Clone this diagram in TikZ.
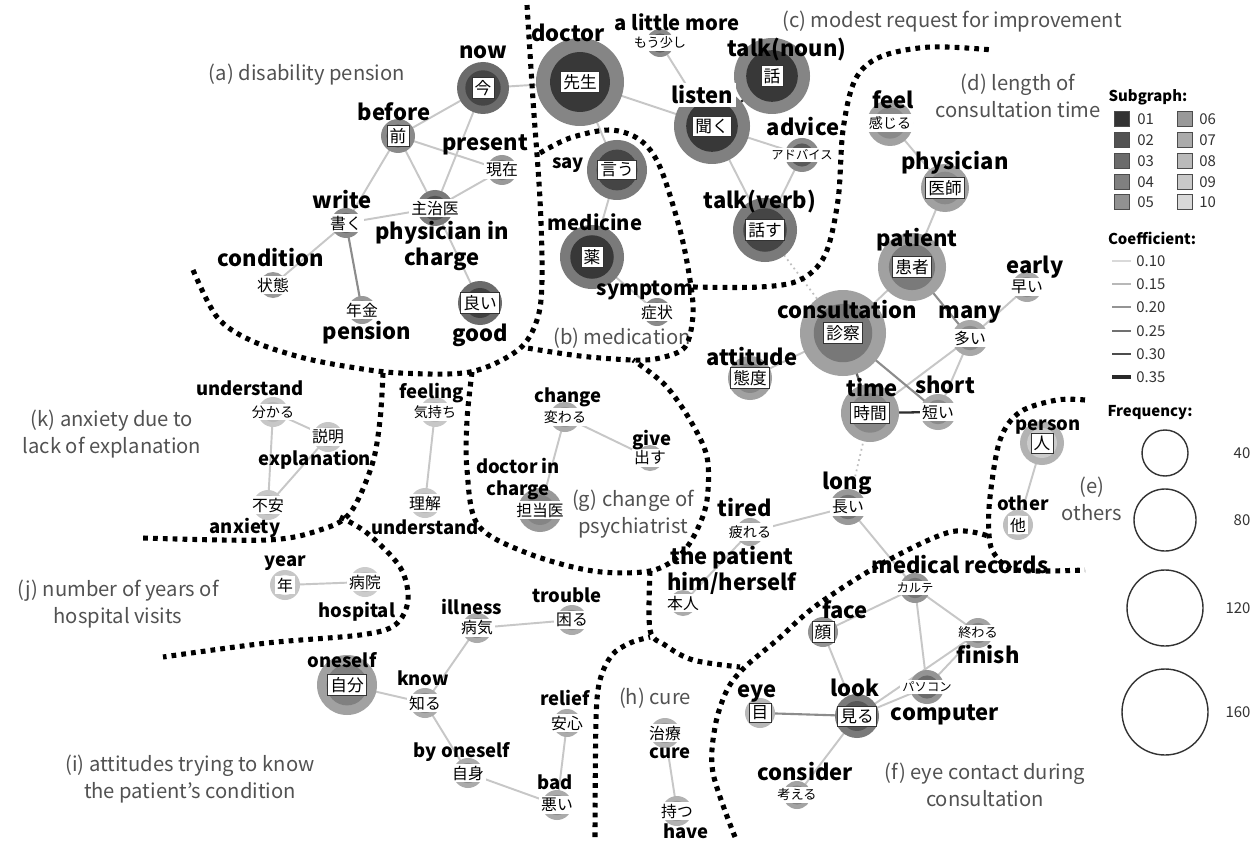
\documentclass[tikz,border=0pt]{standalone}
\usepackage{fontspec}
\setmainfont{Noto Sans CJK JP}
\newcommand{\wn}[6]{%
  \fill[#3] (#1) circle (#2);
  \fill[#4] (#1) circle ({0.68*#2});
  \node[#6] (#1-t) at (#1) {#5};}
\begin{document}
\begin{tikzpicture}[x=0.02cm,y=-0.02cm,
  ed/.style={draw=black!22,line width=1.1pt},
  edd/.style={draw=black!45,line width=1.2pt},
  eddd/.style={draw=black!82,line width=1.3pt},
  edot/.style={draw=black!25,line width=1pt,dash pattern=on 1pt off 2pt},
  bd/.style={line width=2.9pt,dash pattern=on 2.7pt off 2.9pt},
  jp/.style={fill=white,inner sep=1.2pt,font=\fontsize{9}{9.5}\selectfont},
  jpb/.style={fill=white,draw=black!80,line width=0.5pt,inner sep=1.5pt,font=\fontsize{9.5}{10}\selectfont},
  jpk/.style={jp,font=\fontsize{7}{8}\selectfont},
  enb/.style={font=\bfseries\fontsize{12.5}{14}\selectfont,inner sep=0pt},
  enm/.style={font=\bfseries\fontsize{11.5}{13}\selectfont,inner sep=0pt},
  ens/.style={font=\bfseries\fontsize{10.5}{12}\selectfont,inner sep=0pt},
  reg/.style={text=black!68,font=\fontsize{11.5}{15.5}\selectfont,align=center,inner sep=0pt},
  lg/.style={font=\fontsize{8.5}{10}\selectfont,text=black!80,inner sep=0pt},
  lgb/.style={font=\bfseries\fontsize{8.5}{10}\selectfont,inner sep=0pt},
  sq/.style={draw=black!70,line width=0.5pt,minimum size=0.3cm,inner sep=0pt},
]
\fill[white] (0,0) rectangle (1253,841);
\useasboundingbox (0,0) rectangle (1253,841);

% ---------- coordinates ----------
\coordinate (ima) at (483,88);
\coordinate (mae) at (398,136);
\coordinate (genzai) at (502,170);
\coordinate (shuji) at (435,208);
\coordinate (kaku) at (346,223);
\coordinate (jotai) at (273,285);
\coordinate (nenkin) at (362,310);
\coordinate (yoi) at (480,303);
\coordinate (sensei) at (580,82);
\coordinate (mosukoshi) at (660,43);
\coordinate (hanashi) at (772,76);
\coordinate (kiku) at (712,126);
\coordinate (advice) at (802,155);
\coordinate (hanasu) at (765,230);
\coordinate (iu) at (617,170);
\coordinate (kusuri) at (592,257);
\coordinate (shojo) at (657,312);
\coordinate (kanjiru) at (890,123);
\coordinate (ishi) at (945,188);
\coordinate (kanja) at (912,267);
\coordinate (hayai) at (1027,287);
\coordinate (oi) at (970,338);
\coordinate (shinsatsu) at (843,333);
\coordinate (taido) at (750,378);
\coordinate (jikan) at (870,413);
\coordinate (mijikai) at (938,412);
\coordinate (nagai) at (848,507);
\coordinate (hito) at (1042,443);
\coordinate (hoka) at (1018,525);
\coordinate (wakaru) at (273,412);
\coordinate (setsumei) at (328,437);
\coordinate (fuan) at (268,505);
\coordinate (kimochi) at (435,412);
\coordinate (rikai) at (425,503);
\coordinate (nen) at (285,585);
\coordinate (byoin) at (365,582);
\coordinate (kawaru) at (565,417);
\coordinate (dasu) at (650,458);
\coordinate (tantoi) at (540,510);
\coordinate (tsukareru) at (750,532);
\coordinate (honnin) at (683,603);
\coordinate (byoki) at (477,628);
\coordinate (komaru) at (572,620);
\coordinate (jibun) at (347,685);
\coordinate (shiru) at (425,703);
\coordinate (jishin) at (468,773);
\coordinate (anshin) at (567,723);
\coordinate (warui) at (557,805);
\coordinate (chiryo) at (665,733);
\coordinate (motsu) at (677,811);
\coordinate (karute) at (915,588);
\coordinate (kao) at (823,632);
\coordinate (owaru) at (978,633);
\coordinate (pasokon) at (927,687);
\coordinate (miru) at (857,716);
\coordinate (me) at (760,713);
\coordinate (kangaeru) at (797,795);

% ---------- edges ----------
\draw[ed] (ima) -- (mae);
\draw[ed] (ima) -- (shuji);
\draw[ed] (ima) -- (sensei);
\draw[ed] (mae) -- (genzai);
\draw[ed] (mae) -- (shuji);
\draw[ed] (mae) -- (kaku);
\draw[ed] (genzai) -- (shuji);
\draw[ed] (shuji) -- (kaku);
\draw[ed] (kaku) -- (jotai);
\draw[edd] (kaku) -- (nenkin);
\draw[ed] (shuji) -- (yoi);
\draw[ed] (sensei) -- (kiku);
\draw[ed] (sensei) -- (iu);
\draw[ed] (mosukoshi) -- (kiku);
\draw[eddd] (kiku) -- (hanashi);
\draw[ed] (kiku) -- (advice);
\draw[ed] (kiku) -- (hanasu);
\draw[ed] (advice) -- (hanasu);
\draw[ed] (iu) -- (kusuri);
\draw[ed] (kusuri) -- (shojo);
\draw[edot] (hanasu) -- (shinsatsu);
\draw[ed] (kanjiru) -- (ishi);
\draw[ed] (ishi) -- (kanja);
\draw[ed] (kanja) -- (shinsatsu);
\draw[edd] (kanja) -- (oi);
\draw[ed] (oi) -- (hayai);
\draw[ed] (oi) -- (jikan);
\draw[ed] (oi) -- (mijikai);
\draw[ed] (shinsatsu) -- (taido);
\draw[draw=black!60,line width=1.3pt] (shinsatsu) -- (jikan);
\draw[edd] (shinsatsu) -- (mijikai);
\draw[eddd] (jikan) -- (mijikai);
\draw[edot] (jikan) -- (nagai);
\draw[ed] (nagai) -- (tsukareru);
\draw[ed] (nagai) -- (karute);
\draw[ed] (hito) -- (hoka);
\draw[ed] (wakaru) -- (setsumei);
\draw[ed] (wakaru) -- (fuan);
\draw[ed] (setsumei) -- (fuan);
\draw[ed] (kimochi) -- (rikai);
\draw[ed] (nen) -- (byoin);
\draw[ed] (kawaru) -- (dasu);
\draw[ed] (kawaru) -- (tantoi);
\draw[ed] (tsukareru) -- (honnin);
\draw[ed] (byoki) -- (komaru);
\draw[ed] (byoki) -- (shiru);
\draw[ed] (jibun) -- (shiru);
\draw[ed] (shiru) -- (jishin);
\draw[ed] (jishin) -- (warui);
\draw[ed] (anshin) -- (warui);
\draw[ed] (chiryo) -- (motsu);
\draw[ed] (karute) -- (kao);
\draw[ed] (karute) -- (owaru);
\draw[ed] (karute) -- (pasokon);
\draw[ed] (kao) -- (miru);
\draw[ed] (owaru) -- (pasokon);
\draw[ed] (owaru) -- (miru);
\draw[ed] (pasokon) -- (miru);
\draw[edd] (me) -- (miru);
\draw[ed] (miru) -- (kangaeru);

% ---------- nodes ----------
\wn{ima}{26}{black!58}{black!73}{今}{jpb}
\wn{mae}{17}{black!46}{black!62}{前}{jpb}
\wn{genzai}{15}{black!40}{black!55}{現在}{jp}
\wn{shuji}{18}{black!52}{black!68}{主治医}{jp}
\wn{kaku}{15}{black!46}{black!60}{書く}{jp}
\wn{jotai}{13}{black!40}{black!55}{状態}{jp}
\wn{nenkin}{14}{black!40}{black!55}{年金}{jp}
\wn{yoi}{22}{black!58}{black!75}{良い}{jpb}
\wn{sensei}{44}{black!48}{black!78}{先生}{jpb}
\wn{mosukoshi}{14}{black!46}{black!65}{もう少し}{jp,font=\fontsize{7.5}{8}\selectfont}
\wn{hanashi}{38}{black!48}{black!78}{話}{jpb}
\wn{kiku}{38}{black!50}{black!78}{聞く}{jpb}
\wn{advice}{17}{black!46}{black!65}{アドバイス}{jpk}
\wn{hanasu}{32}{black!52}{black!73}{話す}{jpb}
\wn{iu}{30}{black!52}{black!73}{言う}{jpb}
\wn{kusuri}{32}{black!52}{black!78}{薬}{jpb}
\wn{shojo}{14}{black!46}{black!60}{症状}{jp}
\wn{kanjiru}{23}{black!37}{black!46}{感じる}{jp,font=\fontsize{8}{8}\selectfont}
\wn{ishi}{24}{black!37}{black!46}{医師}{jpb}
\wn{kanja}{34}{black!37}{black!52}{患者}{jpb}
\wn{hayai}{15}{black!34}{black!46}{早い}{jp}
\wn{oi}{18}{black!34}{black!46}{多い}{jp}
\wn{shinsatsu}{43}{black!37}{black!53}{診察}{jpb}
\wn{taido}{22}{black!37}{black!47}{態度}{jpb}
\wn{jikan}{29}{black!37}{black!47}{時間}{jpb}
\wn{mijikai}{18}{black!34}{black!46}{短い}{jp}
\wn{nagai}{18}{black!40}{black!55}{長い}{jp}
\wn{hito}{22}{black!30}{black!20}{人}{jpb}
\wn{hoka}{15}{black!25}{black!14}{他}{jp}
\wn{wakaru}{15}{black!22}{black!28}{分かる}{jp,font=\fontsize{8}{8}\selectfont}
\wn{setsumei}{15}{black!22}{black!28}{説明}{jp}
\wn{fuan}{15}{black!22}{black!28}{不安}{jp}
\wn{kimochi}{15}{black!22}{black!28}{気持ち}{jp,font=\fontsize{8}{8}\selectfont}
\wn{rikai}{15}{black!22}{black!28}{理解}{jp}
\wn{nen}{15}{black!22}{black!6}{年}{jp}
\wn{byoin}{15}{black!20}{black!26}{病院}{jp}
\wn{kawaru}{15}{black!33}{black!42}{変わる}{jp,font=\fontsize{8}{8}\selectfont}
\wn{dasu}{13}{black!33}{black!42}{出す}{jp}
\wn{tantoi}{22}{black!40}{black!48}{担当医}{jp}
\wn{tsukareru}{14}{black!33}{black!42}{疲れる}{jp,font=\fontsize{8}{8}\selectfont}
\wn{honnin}{13}{black!33}{black!42}{本人}{jp}
\wn{byoki}{15}{black!33}{black!45}{病気}{jp}
\wn{komaru}{15}{black!33}{black!45}{困る}{jp}
\wn{jibun}{30}{black!37}{black!50}{自分}{jpb}
\wn{shiru}{15}{black!33}{black!45}{知る}{jp}
\wn{jishin}{15}{black!33}{black!45}{自身}{jp}
\wn{anshin}{14}{black!33}{black!45}{安心}{jp}
\wn{warui}{15}{black!33}{black!45}{悪い}{jp}
\wn{chiryo}{15}{black!30}{black!40}{治療}{jp}
\wn{motsu}{15}{black!30}{black!40}{持つ}{jp}
\wn{karute}{15}{black!42}{black!55}{カルテ}{jpk}
\wn{kao}{15}{black!42}{black!55}{顔}{jpb}
\wn{owaru}{15}{black!36}{black!48}{終わる}{jp,font=\fontsize{7.5}{8}\selectfont}
\wn{pasokon}{17}{black!42}{black!58}{パソコン}{jpk}
\wn{miru}{22}{black!52}{black!66}{見る}{jpb}
\wn{me}{15}{black!28}{black!36}{目}{jpb}
\wn{kangaeru}{14}{black!36}{black!48}{考える}{jp,font=\fontsize{7.5}{8}\selectfont}

% ---------- English labels ----------
\node[enb] (l-ima) at (483,52) {now};
\node[enb] (l-mae) at (394,112) {before};
\node[enb] (l-genzai) at (485,145) {present};
\node[enb] (l-kaku) at (342,200) {write};
\node[enb] (l-jotai) at (271,258) {condition};
\node[enb,align=center,font=\bfseries\fontsize{12.5}{15.3}\selectfont] (l-shuji) at (442,246) {physician in\\charge};
\node[enb] (l-nenkin) at (367,333) {pension};
\node[enb] (l-yoi) at (480,335) {good};
\node[enb] (l-sensei) at (568,33) {doctor};
\node[enm] (l-mosukoshi) at (677,22) {a little more};
\node[enb] (l-hanashi) at (787,50) {talk(noun)};
\node[enb,fill=white,inner sep=1.5pt] (l-kiku) at (702,95) {listen};
\node[enb] (l-advice) at (803,127) {advice};
\node[enb] (l-hanasu) at (760,202) {talk(verb)};
\node[ens] (l-iu) at (568,165) {say};
\node[enm] (l-kusuri) at (595,222) {medicine};
\node[enm] (l-shojo) at (645,290) {symptom};
\node[enb] (l-kanjiru) at (893,100) {feel};
\node[enb] (l-ishi) at (955,163) {physician};
\node[enb] (l-kanja) at (917,240) {patient};
\node[enb] (l-hayai) at (1035,267) {early};
\node[enb] (l-oi) at (970,315) {many};
\node[enb] (l-shinsatsu) at (847,310) {consultation};
\node[enb] (l-taido) at (752,357) {attitude};
\node[enb] (l-jikan) at (872,388) {time};
\node[enb] (l-mijikai) at (945,385) {short};
\node[enb] (l-nagai) at (847,483) {long};
\node[ens] (l-hito) at (1048,427) {person};
\node[ens] (l-hoka) at (1023,503) {other};
\node[ens] (l-wakaru) at (250,388) {understand};
\node[ens] (l-setsumei) at (315,460) {explanation};
\node[ens] (l-fuan) at (245,528) {anxiety};
\node[ens] (l-kimochi) at (432,393) {feeling};
\node[ens] (l-rikai) at (425,527) {understand};
\node[ens] (l-nen) at (285,563) {year};
\node[ens] (l-byoin) at (357,612) {hospital};
\node[ens] (l-kawaru) at (568,397) {change};
\node[ens] (l-dasu) at (652,440) {give};
\node[ens,align=center,font=\bfseries\fontsize{10.5}{13}\selectfont] (l-tantoi) at (518,479) {doctor in\\charge};
\node[enb] (l-tsukareru) at (745,508) {tired};
\node[enb,align=center,font=\bfseries\fontsize{12.5}{14.8}\selectfont] (l-honnin) at (732,570) {the patient\\him/herself};
\node[ens] (l-byoki) at (472,607) {illness};
\node[ens] (l-komaru) at (567,595) {trouble};
\node[ens] (l-jibun) at (342,660) {oneself};
\node[ens] (l-shiru) at (423,678) {know};
\node[ens] (l-jishin) at (462,752) {by oneself};
\node[ens] (l-anshin) at (565,698) {relief};
\node[ens] (l-warui) at (555,782) {bad};
\node[ens] (l-chiryo) at (670,753) {cure};
\node[ens] (l-motsu) at (686,831) {have};
\node[enb] (l-karute) at (960,565) {medical records};
\node[enb] (l-kao) at (845,610) {face};
\node[enb] (l-owaru) at (988,655) {finish};
\node[enb] (l-pasokon) at (945,715) {computer};
\node[enb] (l-miru) at (855,688) {look};
\node[enb] (l-me) at (757,693) {eye};
\node[enb] (l-kangaeru) at (805,772) {consider};

% ---------- region labels ----------
\node[reg] (r-a) at (307,75) {(a) disability pension};
\node[reg] (r-c) at (952,22) {(c) modest request for improvement};
\node[reg] (r-d) at (1018,96) {(d) length of\\consultation time};
\node[reg] (r-b) at (622,338) {(b) medication};
\node[reg] (r-k) at (112,434) {(k) anxiety due to\\lack of explanation};
\node[reg] (r-j) at (118,604) {(j) number of years of\\hospital visits};
\node[reg] (r-e) at (1092,499) {(e)\\others};
\node[reg] (r-g) at (633,514) {(g) change of\\psychiatrist};
\node[reg] (r-h) at (655,698) {(h) cure};
\node[reg] (r-i) at (190,779) {(i) attitudes trying to know\\the patient's condition};
\node[reg] (r-f) at (985,785) {(f) eye contact during\\consultation};

% ---------- dotted boundaries ----------
\draw[bd] plot[smooth,tension=0.55] coordinates {(193,270) (217,317) (250,340) (300,357) (350,367) (400,373) (470,372) (518,350) (537,320) (542,280) (540,200) (533,100) (527,5)};
\draw[bd] plot[smooth,tension=0.55] coordinates {(540,153) (570,138) (610,130) (640,140) (660,167) (680,230) (690,280) (693,315) (685,347) (660,358) (633,360) (580,356) (527,348)};
\draw[bd] plot[smooth,tension=0.55] coordinates {(693,287) (760,287) (800,280) (825,255) (838,200) (843,130) (855,80) (880,57) (930,47) (993,50)};
\draw[bd] plot[smooth,tension=0.55] coordinates {(383,373) (380,420) (372,465) (350,513) (320,530) (267,540) (143,538)};
\draw[bd] plot[smooth,tension=0.55] coordinates {(340,517) (367,533) (400,567) (408,600) (395,625) (360,635) (267,643) (163,657)};
\draw[bd] plot[smooth,tension=0.55] coordinates {(472,372) (467,420) (467,470) (478,525) (527,553) (593,571) (650,571) (680,555) (697,530) (707,500) (707,457) (690,420) (665,385) (633,360)};
\draw[bd] plot[smooth,tension=0.55] coordinates {(650,571) (650,630) (665,645) (693,660) (740,667)};
\draw[bd] plot[smooth,tension=0.55] coordinates {(595,837) (596,720) (600,680) (612,655) (630,643) (650,637)};
\draw[bd] plot[smooth,tension=0.55] coordinates {(735,837) (713,773) (715,727) (727,690) (745,667) (777,640) (817,605) (883,563) (950,532) (988,536)};
\draw[bd] plot[smooth,tension=0.55] coordinates {(1085,400) (1057,400) (1020,412) (1000,440) (990,497) (989,535) (995,555) (1017,570) (1085,570)};

% ---------- legend ----------
\node[lgb] (lg-sub) at (1148,97) {Subgraph:};
\node[sq,fill=black!80] (s01) at (1122,119) {};
\node[sq,fill=black!68] (s02) at (1122,140) {};
\node[sq,fill=black!58] (s03) at (1122,161) {};
\node[sq,fill=black!50] (s04) at (1122,182) {};
\node[sq,fill=black!43] (s05) at (1122,202) {};
\node[sq,fill=black!40] (s06) at (1185,119) {};
\node[sq,fill=black!33] (s07) at (1185,140) {};
\node[sq,fill=black!27] (s08) at (1185,161) {};
\node[sq,fill=black!21] (s09) at (1185,182) {};
\node[sq,fill=black!15] (s10) at (1185,202) {};
\node[lg,anchor=west] (t01) at (1137,119) {01};
\node[lg,anchor=west] (t02) at (1137,140) {02};
\node[lg,anchor=west] (t03) at (1137,161) {03};
\node[lg,anchor=west] (t04) at (1137,182) {04};
\node[lg,anchor=west] (t05) at (1137,202) {05};
\node[lg,anchor=west] (t06) at (1199,119) {06};
\node[lg,anchor=west] (t07) at (1199,140) {07};
\node[lg,anchor=west] (t08) at (1199,161) {08};
\node[lg,anchor=west] (t09) at (1199,182) {09};
\node[lg,anchor=west] (t10) at (1199,202) {10};
\node[lgb] (lg-co) at (1152,238) {Coefficient:};
\draw[black!15,line width=0.8pt] (1112,261) -- (1131,261);
\draw[black!28,line width=1pt] (1112,284) -- (1131,284);
\draw[black!42,line width=1.2pt] (1112,307) -- (1131,307);
\draw[black!56,line width=1.4pt] (1112,331) -- (1131,331);
\draw[black!70,line width=1.6pt] (1112,354) -- (1131,354);
\draw[black!84,line width=1.8pt] (1112,377) -- (1131,377);
\node[lg,anchor=west] (c1) at (1136,261) {0.10};
\node[lg,anchor=west] (c2) at (1136,284) {0.15};
\node[lg,anchor=west] (c3) at (1136,307) {0.20};
\node[lg,anchor=west] (c4) at (1136,331) {0.25};
\node[lg,anchor=west] (c5) at (1136,354) {0.30};
\node[lg,anchor=west] (c6) at (1136,377) {0.35};
\node[lgb] (lg-fr) at (1150,413) {Frequency:};
\draw[black!80,line width=0.8pt] (1165,453) circle (23);
\draw[black!80,line width=0.8pt] (1165,520) circle (31);
\draw[black!80,line width=0.8pt] (1165,608) circle (38);
\draw[black!80,line width=0.8pt] (1165,712) circle (43);
\node[lg] (f1) at (1242,453) {40};
\node[lg] (f2) at (1242,520) {80};
\node[lg] (f3) at (1238,608) {120};
\node[lg] (f4) at (1238,712) {160};
\end{tikzpicture}
\end{document}
